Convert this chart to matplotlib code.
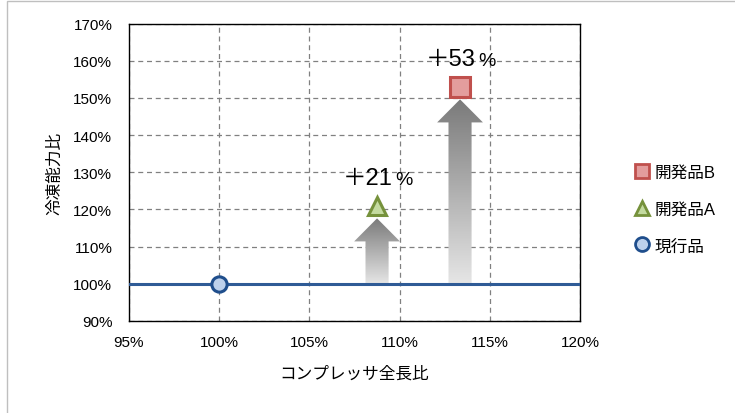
import matplotlib
matplotlib.use("Agg")
import matplotlib.pyplot as plt
import numpy as np
from matplotlib.patches import Polygon, Rectangle
from matplotlib.lines import Line2D
from matplotlib.colors import LinearSegmentedColormap

plt.rcParams['font.family'] = ['Liberation Sans', 'Noto Sans CJK JP', 'DejaVu Sans']

# data
names = ['現行品', '開発品A', '開発品B']
length_ratio = [100.0, 108.75, 113.35]     # コンプレッサ全長比 (%)
capacity_ratio = [100.0, 121.0, 153.0]     # 冷凍能力比 (%)
gain_labels = ['', '＋21', '＋53']
xticks = [95, 100, 105, 110, 115, 120]
yticks = [90, 100, 110, 120, 130, 140, 150, 160, 170]
baseline = 100.0

faces = ['#bdd1ec', '#c4dba0', '#e39d9d']
edges = ['#1f4e8c', '#76923c', '#c0504d']
markers = ['o', '^', 's']
msizes = [11, 13, 14]

fig = plt.figure(figsize=(7.35, 4.14), dpi=100)
fig.patches.append(Rectangle((7/735, -0.1), 1.0, 1 - 2/414 + 0.1, transform=fig.transFigure,
                             fill=False, edgecolor='#bfbfbf', lw=1.0))
ax = fig.add_axes([129/735, 1 - 322/414, (580 - 129)/735, (322 - 24.5)/414])

ax.set_xlim(95, 120)
ax.set_ylim(90, 170)
ax.set_xticks(xticks)
ax.set_yticks(yticks)
ax.set_xticklabels([f'{v}%' for v in xticks], fontsize=11)
ax.set_yticklabels([f'{v}%' for v in yticks], fontsize=11)
ax.tick_params(axis='y', length=0, pad=12)
ax.tick_params(axis='x', length=0, pad=10)
ax.grid(True, linestyle=(0, (4, 3)), color='#808080', lw=0.9)
for s in ax.spines.values():
    s.set_color('black')
    s.set_linewidth(1.0)

ax.axhline(baseline, color='#2f5b96', lw=2.2, zorder=3)

# gradient arrows
cmap = LinearSegmentedColormap.from_list('g', ['#e6e6e6', '#7a7a7a'])
grad = np.linspace(0, 1, 256).reshape(-1, 1)
shaft_hw = 0.64
head_hw = 1.27
head_len = 6.2
for x, y in zip(length_ratio[1:], capacity_ratio[1:]):
    tip = y - 3.4
    hb = tip - head_len
    pts = [(x - shaft_hw, baseline), (x + shaft_hw, baseline), (x + shaft_hw, hb),
           (x + head_hw, hb), (x, tip), (x - head_hw, hb), (x - shaft_hw, hb)]
    poly = Polygon(pts, closed=True, facecolor='none', edgecolor='none')
    ax.add_patch(poly)
    im = ax.imshow(grad, cmap=cmap, aspect='auto', origin='lower',
                   extent=[x - head_hw, x + head_hw, baseline, tip], zorder=2)
    im.set_clip_path(poly)

ax.set_xlim(95, 120)
ax.set_ylim(90, 170)

handles = []
for n, x, y, fc, ec, m, ms in zip(names, length_ratio, capacity_ratio, faces, edges, markers, msizes):
    ax.plot([x], [y], marker=m, ms=ms, mfc=fc, mec=ec, mew=2.2, ls='none', zorder=5, clip_on=False)
    handles.append(Line2D([], [], marker=m, ms=10, mfc=fc, mec=ec, mew=2.0, ls='none', label=n))

for x, y, lab in zip(length_ratio[1:], capacity_ratio[1:], gain_labels[1:]):
    ax.text(x + 0.89, y + 5.9, lab, ha='right', va='baseline', fontsize=17)
    ax.text(x + 1.0, y + 5.9, '%', ha='left', va='baseline', fontsize=14)

ax.set_xlabel('コンプレッサ全長比', fontsize=12, labelpad=12)
ax.set_ylabel('冷凍能力比', fontsize=12, labelpad=8)

fig.legend(handles=handles[::-1], loc='center left', bbox_to_anchor=(620/735, 1 - 210/414),
           frameon=False, fontsize=12, handlelength=0.8, handletextpad=0.4, labelspacing=1.3)

fig.savefig('out.png', dpi=100)
